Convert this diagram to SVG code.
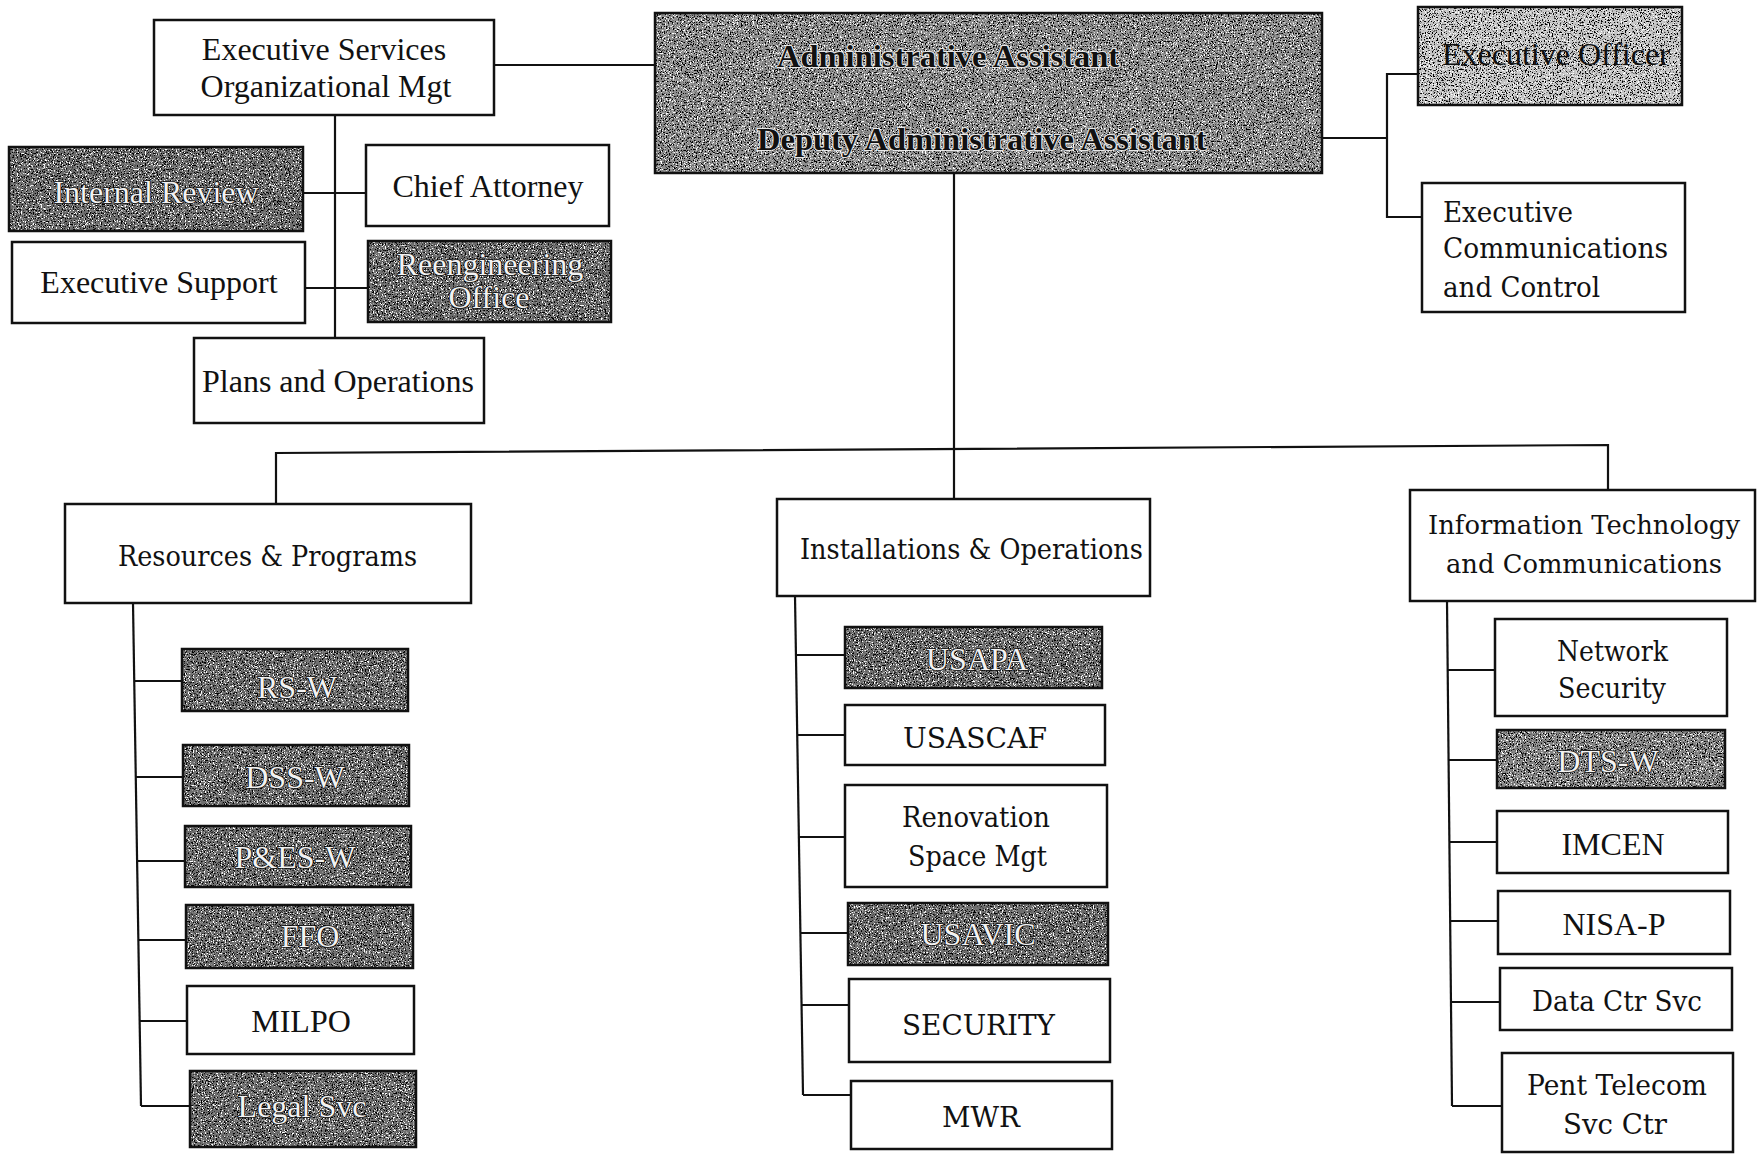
<svg xmlns="http://www.w3.org/2000/svg" width="1758" height="1159" viewBox="0 0 1758 1159">
<style>
.box{fill:#fff;stroke:#111;stroke-width:2.5}
.frame{fill:none;stroke:#111;stroke-width:2.5}
.t{font-family:"Liberation Serif","Times New Roman",serif;font-size:32px;fill:#111}
.c{font-family:"DejaVu Serif","Liberation Serif",serif;font-size:28px;fill:#111}
.s26{font-size:26px}
.b{font-weight:bold;font-size:32.5px;stroke:#e8e8e8;stroke-width:2px;paint-order:stroke}
.dk{fill:#f2f2f2;stroke:#111;stroke-width:1.6px;paint-order:stroke}
.mid{text-anchor:middle}
.ln{stroke:#111;stroke-width:2.2;fill:none}
.dark{fill:#6e6e6e}
.grey{fill:#8e8e8e}
.light{fill:#c6c6c6}
.dts{fill:#858585}
</style>
<defs>
<filter id="speck" x="0" y="0" width="1" height="1" color-interpolation-filters="sRGB">
<feTurbulence type="fractalNoise" baseFrequency="0.75" numOctaves="2" seed="4" result="n"/>
<feColorMatrix in="n" type="matrix" values="0 0 0 0 1  0 0 0 0 1  0 0 0 0 1  9 0 0 0 -5.1" result="w"/>
<feColorMatrix in="n" type="matrix" values="0 0 0 0 0  0 0 0 0 0  0 0 0 0 0  0 -9 0 0 4.0" result="k"/>
<feMerge result="m"><feMergeNode in="SourceGraphic"/><feMergeNode in="w"/><feMergeNode in="k"/></feMerge>
<feComposite in="m" in2="SourceGraphic" operator="in"/>
</filter>
</defs>
<rect x="0" y="0" width="1758" height="1159" fill="#fff"/>

<g id="connectors">
<line class="ln" x1="494" y1="65" x2="655" y2="65"/>
<line class="ln" x1="335" y1="115" x2="335" y2="338"/>
<line class="ln" x1="303" y1="193" x2="366" y2="193"/>
<line class="ln" x1="305" y1="288" x2="368" y2="288"/>
<line class="ln" x1="1322" y1="138" x2="1387" y2="138"/>
<polyline class="ln" points="1418,74 1387,74 1387,217 1422,217"/>
<line class="ln" x1="954" y1="173" x2="954" y2="499"/>
<polyline class="ln" points="276,504 276,453 1608,445 1608,490"/>
<line class="ln" x1="133" y1="603" x2="141" y2="1106"/>
<line class="ln" x1="134" y1="681" x2="182" y2="681"/>
<line class="ln" x1="136" y1="777" x2="183" y2="777"/>
<line class="ln" x1="137" y1="861" x2="185" y2="861"/>
<line class="ln" x1="138" y1="940" x2="186" y2="940"/>
<line class="ln" x1="140" y1="1021" x2="187" y2="1021"/>
<line class="ln" x1="141" y1="1106" x2="190" y2="1106"/>
<line class="ln" x1="795" y1="596" x2="803" y2="1095"/>
<line class="ln" x1="796" y1="655" x2="845" y2="655"/>
<line class="ln" x1="797" y1="735" x2="845" y2="735"/>
<line class="ln" x1="799" y1="837" x2="845" y2="837"/>
<line class="ln" x1="800" y1="933" x2="848" y2="933"/>
<line class="ln" x1="802" y1="1005" x2="849" y2="1005"/>
<line class="ln" x1="803" y1="1095" x2="851" y2="1095"/>
<line class="ln" x1="1447" y1="601" x2="1452" y2="1106"/>
<line class="ln" x1="1448" y1="670" x2="1495" y2="670"/>
<line class="ln" x1="1449" y1="760" x2="1497" y2="760"/>
<line class="ln" x1="1449" y1="842" x2="1497" y2="842"/>
<line class="ln" x1="1450" y1="921" x2="1498" y2="921"/>
<line class="ln" x1="1451" y1="1002" x2="1500" y2="1002"/>
<line class="ln" x1="1452" y1="1106" x2="1502" y2="1106"/>
</g>

<g id="node-exec-services">
<rect class="box" x="154" y="20" width="340" height="95"/>
<text class="t mid" x="324" y="60">Executive Services</text>
<text class="t mid" x="326" y="97">Organizational Mgt</text>
</g>

<g id="node-admin">
<rect class="grey" x="655" y="13" width="667" height="160" filter="url(#speck)"/>
<rect class="frame" x="655" y="13" width="667" height="160"/>
<text class="t b" x="777" y="67">Administrative Assistant</text>
<text class="t b" x="757" y="150">Deputy Administrative Assistant</text>
</g>

<g id="node-exec-officer">
<rect class="light" x="1418" y="7" width="264" height="98" filter="url(#speck)"/>
<rect class="frame" x="1418" y="7" width="264" height="98"/>
<text class="t" x="1442" y="65">Executive Officer</text>
</g>

<g id="node-exec-comm">
<rect class="box" x="1422" y="183" width="263" height="129"/>
<text class="c" x="1443" y="222" textLength="130" lengthAdjust="spacingAndGlyphs">Executive</text>
<text class="c" x="1443" y="258" textLength="225" lengthAdjust="spacingAndGlyphs">Communications</text>
<text class="c" x="1443" y="297" textLength="157" lengthAdjust="spacingAndGlyphs">and Control</text>
</g>

<g id="node-internal-review">
<rect class="dark" x="9" y="147" width="294" height="84" filter="url(#speck)"/>
<rect class="frame" x="9" y="147" width="294" height="84"/>
<text class="t dk mid" x="156" y="203">Internal Review</text>
</g>

<g id="node-chief-attorney">
<rect class="box" x="366" y="145" width="243" height="81"/>
<text class="t mid" x="488" y="197">Chief Attorney</text>
</g>

<g id="node-exec-support">
<rect class="box" x="12" y="242" width="293" height="81"/>
<text class="t mid" x="159" y="293">Executive Support</text>
</g>

<g id="node-reengineering">
<rect class="dark" x="368" y="241" width="243" height="81" filter="url(#speck)"/>
<rect class="frame" x="368" y="241" width="243" height="81"/>
<text class="t dk mid" x="490" y="275">Reengineering</text>
<text class="t dk mid" x="489" y="308">Office</text>
</g>

<g id="node-plans">
<rect class="box" x="194" y="338" width="290" height="85"/>
<text class="t mid" x="338" y="392">Plans and Operations</text>
</g>

<g id="node-resources">
<rect class="box" x="65" y="504" width="406" height="99"/>
<text class="c" x="118" y="566" textLength="299" lengthAdjust="spacingAndGlyphs">Resources &amp; Programs</text>
</g>

<g id="node-installations">
<rect class="box" x="777" y="499" width="373" height="97"/>
<text class="c" x="800" y="559" textLength="343" lengthAdjust="spacingAndGlyphs">Installations &amp; Operations</text>
</g>

<g id="node-it">
<rect class="box" x="1410" y="490" width="345" height="111"/>
<text class="c s26" x="1428" y="534" textLength="312" lengthAdjust="spacingAndGlyphs">Information Technology</text>
<text class="c s26" x="1446" y="573" textLength="276" lengthAdjust="spacingAndGlyphs">and Communications</text>
</g>

<g id="node-rs-w">
<rect class="dark" x="182" y="649" width="226" height="62" filter="url(#speck)"/>
<rect class="frame" x="182" y="649" width="226" height="62"/>
<text class="t dk mid" x="297" y="698">RS-W</text>
</g>
<g id="node-dss-w">
<rect class="dark" x="183" y="745" width="226" height="61" filter="url(#speck)"/>
<rect class="frame" x="183" y="745" width="226" height="61"/>
<text class="t dk mid" x="295" y="788">DSS-W</text>
</g>
<g id="node-pes-w">
<rect class="dark" x="185" y="826" width="226" height="61" filter="url(#speck)"/>
<rect class="frame" x="185" y="826" width="226" height="61"/>
<text class="t dk mid" x="295" y="868">P&amp;ES-W</text>
</g>
<g id="node-ffo">
<rect class="dark" x="186" y="905" width="227" height="63" filter="url(#speck)"/>
<rect class="frame" x="186" y="905" width="227" height="63"/>
<text class="t dk mid" x="310" y="947">FFO</text>
</g>
<g id="node-milpo">
<rect class="box" x="187" y="986" width="227" height="68"/>
<text class="t mid" x="301" y="1032">MILPO</text>
</g>
<g id="node-legal">
<rect class="dark" x="190" y="1071" width="226" height="76" filter="url(#speck)"/>
<rect class="frame" x="190" y="1071" width="226" height="76"/>
<text class="t dk mid" x="302" y="1117">Legal Svc</text>
</g>

<g id="node-usapa">
<rect class="dark" x="845" y="627" width="257" height="61" filter="url(#speck)"/>
<rect class="frame" x="845" y="627" width="257" height="61"/>
<text class="t dk mid" x="977" y="670">USAPA</text>
</g>
<g id="node-usascaf">
<rect class="box" x="845" y="705" width="260" height="60"/>
<text class="c" x="903" y="748" textLength="144" lengthAdjust="spacingAndGlyphs">USASCAF</text>
</g>
<g id="node-renovation">
<rect class="box" x="845" y="785" width="262" height="102"/>
<text class="c" x="902" y="827" textLength="148" lengthAdjust="spacingAndGlyphs">Renovation</text>
<text class="c" x="908" y="866" textLength="139" lengthAdjust="spacingAndGlyphs">Space Mgt</text>
</g>
<g id="node-usavic">
<rect class="dark" x="848" y="903" width="260" height="62" filter="url(#speck)"/>
<rect class="frame" x="848" y="903" width="260" height="62"/>
<text class="t dk mid" x="978" y="945">USAVIC</text>
</g>
<g id="node-security">
<rect class="box" x="849" y="979" width="261" height="83"/>
<text class="c" x="902" y="1035" textLength="153" lengthAdjust="spacingAndGlyphs">SECURITY</text>
</g>
<g id="node-mwr">
<rect class="box" x="851" y="1081" width="261" height="68"/>
<text class="c" x="942" y="1127" textLength="78" lengthAdjust="spacingAndGlyphs">MWR</text>
</g>

<g id="node-network-security">
<rect class="box" x="1495" y="619" width="232" height="97"/>
<text class="c" x="1557" y="661" textLength="111" lengthAdjust="spacingAndGlyphs">Network</text>
<text class="c" x="1558" y="698" textLength="108" lengthAdjust="spacingAndGlyphs">Security</text>
</g>
<g id="node-dts-w">
<rect class="dts" x="1497" y="730" width="228" height="58" filter="url(#speck)"/>
<rect class="frame" x="1497" y="730" width="228" height="58"/>
<text class="t dk mid" x="1608" y="772">DTS-W</text>
</g>
<g id="node-imcen">
<rect class="box" x="1497" y="811" width="231" height="62"/>
<text class="t mid" x="1613" y="855">IMCEN</text>
</g>
<g id="node-nisa-p">
<rect class="box" x="1498" y="891" width="232" height="63"/>
<text class="t mid" x="1614" y="935">NISA-P</text>
</g>
<g id="node-data-ctr">
<rect class="box" x="1500" y="968" width="232" height="62"/>
<text class="c" x="1532" y="1011" textLength="170" lengthAdjust="spacingAndGlyphs">Data Ctr Svc</text>
</g>
<g id="node-pent-telecom">
<rect class="box" x="1502" y="1053" width="231" height="99"/>
<text class="c" x="1527" y="1095" textLength="180" lengthAdjust="spacingAndGlyphs">Pent Telecom</text>
<text class="c" x="1563" y="1134" textLength="104" lengthAdjust="spacingAndGlyphs">Svc Ctr</text>
</g>
</svg>
